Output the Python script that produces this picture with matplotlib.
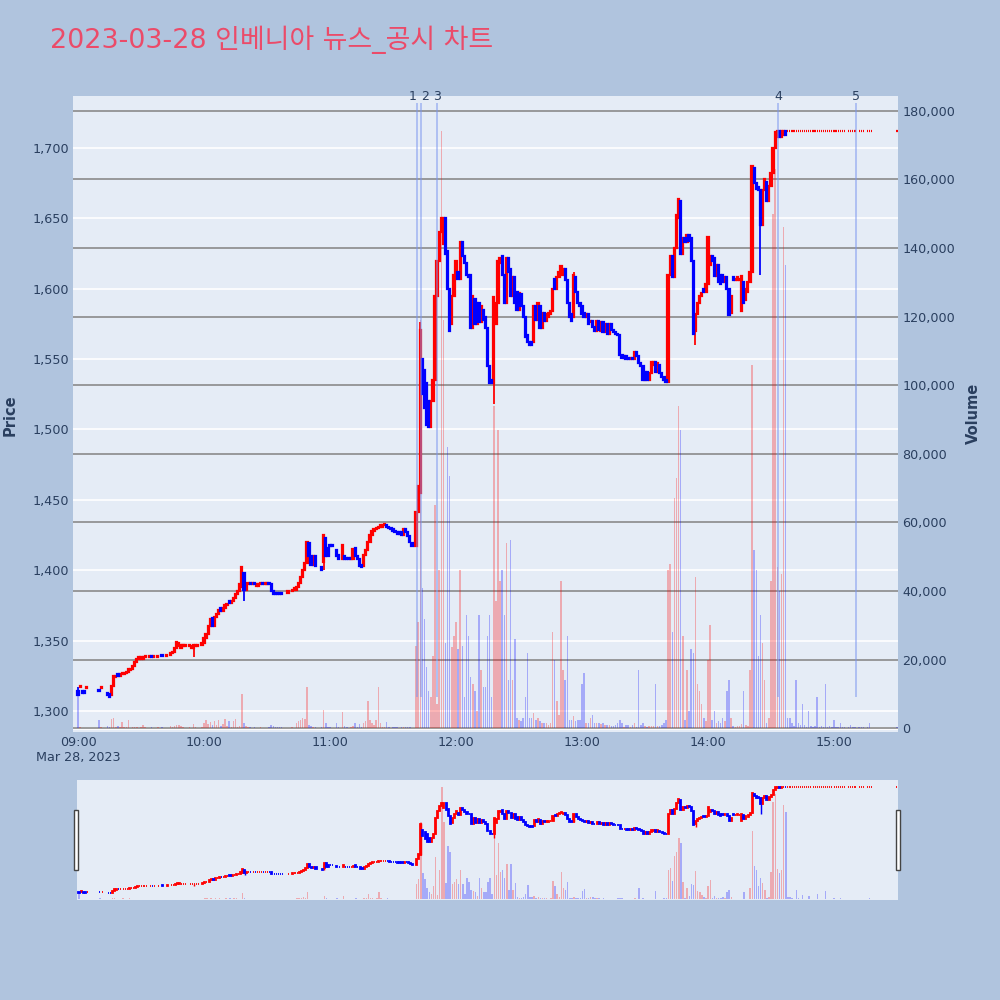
import matplotlib
matplotlib.use('Agg')
import matplotlib.pyplot as plt
from matplotlib.patches import Rectangle

plt.rcParams['font.family'] = ['DejaVu Sans', 'Noto Sans CJK KR']

N = None
# one entry per minute from 09:00 (index 0) to 15:30 (index 390); None = no trade
opens = [
    1314, 1317, 1314, 1314, 1316, N, N, N, N, N,
    1315, 1316, N, N, 1313, 1312, 1311, 1318, 1324, 1326,
    1325, 1326, 1326, 1327, 1328, 1329, 1330, 1332, 1335, 1337,
    1337, 1337, 1338, N, 1338, 1339, 1338, N, 1338, N,
    1340, N, 1339, N, 1340, 1341, 1342, 1345, 1346, 1345,
    1346, 1346, N, 1346, 1345, 1345, 1346, 1346, N, 1347,
    1348, 1352, 1355, 1360, 1366, 1360, 1367, 1369, 1373, 1371,
    1373, 1375, 1378, 1377, 1378, 1380, 1383, 1385, 1388, 1398,
    1386, 1390, 1391, 1390, 1391, 1389, 1389, 1390, 1391, 1390,
    1390, 1391, 1390, 1385, 1384, 1384, 1384, 1384, N, N,
    1384, N, 1385, 1386, 1386, 1388, 1391, 1395, 1400, 1405,
    1419, 1410, 1404, 1410, N, N, 1402, 1406, 1423, 1416,
    1418, 1418, N, 1414, 1411, N, 1408, 1410, 1409, 1409,
    1408, 1408, 1416, 1410, 1408, 1404, 1403, 1411, 1414, 1420,
    1425, 1428, 1429, 1430, 1431, 1431, 1432, 1432, 1431, 1430,
    1429, 1428, 1427, 1427, 1427, 1425, 1429, 1427, 1424, 1419,
    N, 1417, 1441, 1455, 1550, 1542, 1533, 1520, 1502, 1520,
    1535, 1595, 1620, 1640, 1632, 1650, 1627, 1600, 1575, 1595,
    1610, 1612, 1607, 1633, 1623, 1618, 1610, 1610, 1572, 1593,
    1575, 1590, 1576, 1585, 1580, 1572, 1545, 1535, 1533, 1575,
    1590, 1618, 1623, 1610, 1590, 1622, 1614, 1595, 1608, 1598,
    1585, 1596, 1588, 1580, 1567, 1562, 1562, 1562, 1588, 1578,
    1588, 1572, 1583, 1577, 1580, 1582, 1584, 1607, 1600, 1608,
    1612, 1610, 1614, 1606, 1590, 1582, 1580, 1608, 1598, 1590,
    1588, 1583, 1580, 1582, 1576, 1577, 1573, 1570, 1577, 1570,
    1576, 1569, 1575, 1568, 1575, 1571, 1569, 1568, 1567, 1553,
    1551, 1552, 1551, 1550, 1551, 1550, 1555, 1552, 1547, 1545,
    1535, 1541, 1535, 1540, 1546, 1548, 1541, 1546, 1540, 1537,
    1535, 1534, 1610, 1623, 1608, 1629, 1650, 1662, 1625, 1636,
    1633, 1638, 1636, 1620, 1570, 1582, 1590, 1595, 1600, 1598,
    1603, 1617, 1623, 1622, 1609, 1617, 1610, 1610, 1605, 1608,
    1600, 1583, 1608, 1606, 1606, 1606, 1584, 1605, 1592, 1598,
    1605, 1612, 1686, 1675, 1672, 1670, 1645, 1670, 1676, 1662,
    1673, 1682, 1700, 1708, 1712, 1708, 1709, 1712, 1712, 1712,
    1712, 1712, 1712, 1712, 1712, 1712, 1712, 1712, 1712, 1712,
    1712, 1712, 1712, 1712, 1712, 1712, 1712, 1712, 1712, 1712,
    1712, 1712, 1712, 1712, 1712, 1712, N, 1712, 1712, 1712,
    1712, N, 1712, 1712, 1712, N, 1712, 1712, 1712, N,
    N, N, N, N, N, N, N, N, N, N,
    1712,
]
closes = [
    1311, 1318, 1313, 1313, 1317, N, N, N, N, N,
    1314, 1317, N, N, 1311, 1310, 1318, 1325, 1325, 1325,
    1326, 1327, 1327, 1328, 1330, 1330, 1332, 1335, 1337, 1338,
    1338, 1338, 1339, N, 1339, 1338, 1339, N, 1339, N,
    1339, N, 1340, N, 1341, 1342, 1345, 1349, 1348, 1347,
    1347, 1347, N, 1347, 1346, 1347, 1347, 1347, N, 1348,
    1352, 1355, 1360, 1365, 1360, 1367, 1369, 1372, 1371, 1373,
    1375, 1376, 1377, 1378, 1380, 1383, 1385, 1390, 1402, 1386,
    1390, 1391, 1390, 1391, 1390, 1390, 1390, 1391, 1390, 1391,
    1391, 1390, 1385, 1383, 1383, 1383, 1383, 1383, N, N,
    1385, N, 1386, 1387, 1388, 1391, 1395, 1400, 1405, 1420,
    1410, 1404, 1410, 1403, N, N, 1400, 1425, 1410, 1410,
    1417, 1417, N, 1410, 1408, N, 1418, 1408, 1408, 1408,
    1409, 1415, 1410, 1408, 1403, 1402, 1411, 1414, 1420, 1425,
    1428, 1429, 1430, 1431, 1432, 1432, 1433, 1431, 1430, 1429,
    1428, 1427, 1426, 1426, 1425, 1429, 1427, 1424, 1420, 1417,
    N, 1441, 1460, 1571, 1525, 1515, 1503, 1502, 1520, 1535,
    1595, 1620, 1640, 1650, 1650, 1625, 1600, 1570, 1595, 1610,
    1620, 1607, 1633, 1623, 1618, 1610, 1608, 1572, 1595, 1575,
    1590, 1576, 1588, 1578, 1572, 1545, 1533, 1533, 1594, 1590,
    1620, 1622, 1610, 1590, 1622, 1612, 1595, 1608, 1590, 1585,
    1597, 1588, 1580, 1566, 1562, 1560, 1560, 1588, 1578, 1590,
    1572, 1583, 1577, 1582, 1583, 1584, 1600, 1600, 1608, 1612,
    1616, 1614, 1606, 1590, 1580, 1577, 1610, 1598, 1590, 1588,
    1582, 1580, 1582, 1575, 1577, 1573, 1570, 1577, 1571, 1576,
    1569, 1575, 1568, 1575, 1571, 1569, 1568, 1567, 1553, 1551,
    1552, 1550, 1550, 1551, 1550, 1555, 1552, 1547, 1545, 1535,
    1541, 1535, 1540, 1548, 1548, 1541, 1547, 1540, 1537, 1535,
    1534, 1610, 1623, 1608, 1629, 1652, 1664, 1625, 1636, 1633,
    1638, 1634, 1620, 1568, 1582, 1590, 1595, 1597, 1598, 1603,
    1637, 1623, 1620, 1609, 1617, 1605, 1603, 1605, 1608, 1600,
    1581, 1595, 1606, 1607, 1608, 1607, 1609, 1590, 1600, 1605,
    1612, 1687, 1675, 1671, 1670, 1645, 1670, 1678, 1662, 1673,
    1682, 1700, 1711, 1712, 1708, 1712, 1712, 1709, 1712, 1712,
    1712, 1712, 1712, 1712, 1712, 1712, 1712, 1712, 1712, 1712,
    1712, 1712, 1712, 1712, 1712, 1712, 1712, 1712, 1712, 1712,
    1712, 1712, 1712, 1712, 1712, 1712, N, 1712, 1712, 1712,
    1712, N, 1712, 1712, 1712, N, 1712, 1712, 1712, N,
    N, N, N, N, N, N, N, N, N, N,
    1712,
]
volumes = [
    11000, 300, 200, 200, 200, 0, 0, 0, 0, 0,
    2300, 300, 0, 0, 600, 500, 2700, 2900, 400, 800,
    300, 1800, 300, 400, 2300, 200, 500, 300, 400, 200,
    300, 1000, 300, 0, 200, 300, 200, 0, 400, 0,
    300, 0, 200, 0, 600, 300, 800, 900, 1000, 700,
    400, 200, 0, 300, 200, 1200, 300, 200, 0, 400,
    1500, 2500, 1200, 1800, 900, 2200, 1000, 2500, 800, 1200,
    2800, 600, 2200, 300, 2000, 2800, 500, 800, 10000, 1500,
    800, 300, 400, 200, 300, 200, 200, 300, 200, 200,
    200, 300, 900, 600, 300, 300, 500, 300, 0, 0,
    200, 0, 300, 200, 1500, 2000, 2500, 3000, 2800, 12000,
    1000, 600, 400, 300, 0, 0, 500, 5200, 1500, 400,
    300, 200, 0, 1500, 400, 0, 4700, 600, 300, 200,
    300, 800, 1500, 400, 1200, 500, 1500, 2000, 8000, 2500,
    1500, 1000, 2500, 12000, 1500, 300, 500, 1800, 300, 200,
    500, 300, 400, 200, 300, 300, 300, 500, 300, 200,
    0, 24000, 31000, 119000, 41000, 32000, 18000, 11000, 9000, 21000,
    65000, 7000, 46000, 174000, 119000, 25000, 82000, 73500, 23600, 27000,
    31000, 23000, 46000, 24000, 9000, 33000, 27000, 15000, 13000, 11000,
    5000, 33000, 17000, 12000, 12000, 27000, 33000, 9000, 94000, 37000,
    87000, 43000, 46000, 33000, 54000, 14000, 55000, 14000, 26000, 3000,
    2500, 2000, 3000, 9000, 22000, 3000, 3000, 4500, 2500, 3000,
    2000, 1500, 1500, 1500, 1000, 1500, 28000, 20000, 8000, 4000,
    43000, 17000, 14000, 27000, 2500, 2500, 3500, 2000, 2500, 2500,
    13000, 16000, 1500, 1500, 3000, 4000, 1500, 1500, 1500, 1200,
    1500, 1000, 1000, 1000, 600, 800, 1000, 1500, 2500, 1500,
    500, 1000, 1000, 500, 1000, 1500, 500, 17000, 1000, 1500,
    800, 500, 600, 800, 600, 13000, 600, 800, 1000, 1500,
    2500, 46000, 48000, 28000, 67000, 73000, 94000, 87000, 27000, 2500,
    17000, 5000, 23000, 22000, 44000, 13000, 11000, 7000, 3000, 2000,
    20000, 30000, 2500, 5000, 1500, 2000, 1500, 3000, 2000, 11000,
    14000, 3000, 800, 500, 800, 600, 1200, 11000, 1000, 600,
    17000, 106000, 52000, 46000, 21000, 33000, 25000, 14000, 1500, 3000,
    43000, 150000, 163000, 47000, 40000, 45000, 146000, 135000, 3000, 3000,
    1500, 800, 14000, 1500, 1000, 7000, 1000, 500, 5000, 800,
    500, 600, 9000, 500, 800, 400, 13000, 500, 600, 400,
    2500, 300, 400, 1500, 300, 500, 0, 300, 1000, 300,
    400, 0, 300, 400, 300, 0, 300, 1500, 200, 0,
    0, 0, 0, 0, 0, 0, 0, 0, 0, 0,
    500,
]
# wicks that reach past the candle body
wick_high = {0: 1317, 47: 1350, 78: 1403, 163: 1576, 236: 1612}
wick_low = {55: 1338, 79: 1378, 117: 1400, 198: 1518, 294: 1560, 325: 1610}

news_minutes = [161.4, 163.3, 171.0, 333.3, 370.5]
news_labels = ['1', '2', '3', '4', '5']

hour_ticks = [0, 60, 120, 180, 240, 300, 360]
hour_labels = ['09:00', '10:00', '11:00', '12:00', '13:00', '14:00', '15:00']

RED = '#FF0000'
BLUE = '#0000FF'
BG = '#E5ECF6'
TXT = '#2a3f5f'

PRICE_LIM = (1285.4, 1736.9)
VOL_LIM = (-930, 184280)


def draw(ax, axv, body_w, lw, vol_w):
    xs_up, o_up, h_up, xs_dn, o_dn, h_dn = [], [], [], [], [], []
    vx, vv, vc = [], [], []
    for i, (o, c) in enumerate(zip(opens, closes)):
        if o is None:
            continue
        up = c >= o
        col = RED if up else BLUE
        hi = wick_high.get(i, max(o, c))
        lo = wick_low.get(i, min(o, c))
        if hi > max(o, c) or lo < min(o, c):
            ax.vlines(i, lo, hi, color=col, lw=lw * 0.8, zorder=3)
        if up:
            xs_up.append(i); o_up.append(o); h_up.append(c - o)
        else:
            xs_dn.append(i); o_dn.append(c); h_dn.append(o - c)
        vx.append(i); vv.append(volumes[i])
        vc.append(RED if c > o else BLUE)
    ax.bar(xs_up, h_up, bottom=o_up, width=body_w, color=RED,
           edgecolor=RED, linewidth=lw, zorder=4)
    ax.bar(xs_dn, h_dn, bottom=o_dn, width=body_w, color=BLUE,
           edgecolor=BLUE, linewidth=lw, zorder=4)
    axv.bar(vx, vv, width=vol_w, color=vc, alpha=0.28, linewidth=0, zorder=2)


fig = plt.figure(figsize=(10, 10), dpi=100, facecolor='#B0C4DE')

# main chart
axv = fig.add_axes([0.073, 0.2685, 0.825, 0.6355])
ax = axv.twinx()
axv.set_facecolor(BG)
ax.set_zorder(axv.get_zorder() + 1)
ax.patch.set_visible(False)

draw(ax, axv, 0.6, 1.6, 0.7)

axv.set_ylim(*VOL_LIM)
axv.set_yticks(range(0, 180001, 20000))
axv.grid(axis='y', color='#8a8a8a', lw=1.2, zorder=0)
axv.axhline(0, color='white', lw=2, zorder=1)
axv.yaxis.tick_right()
axv.set_yticklabels([f'{v:,}' for v in range(0, 180001, 20000)])

ax.yaxis.tick_left()
ax.set_ylim(*PRICE_LIM)
ax.set_yticks(range(1300, 1701, 50))
ax.set_yticklabels([f'{p:,}' for p in range(1300, 1701, 50)])
for p in range(1300, 1701, 50):
    axv.axhline((p - PRICE_LIM[0]) / (PRICE_LIM[1] - PRICE_LIM[0]) * (VOL_LIM[1] - VOL_LIM[0]) + VOL_LIM[0],
                color='white', lw=1.2, zorder=1)

ax.set_xlim(-2.4, 390.5)
axv.set_xticks(hour_ticks)
axv.set_xticklabels(hour_labels)

for a in (ax, axv):
    for s in a.spines.values():
        s.set_visible(False)
    a.tick_params(length=0, labelsize=9.2, labelcolor=TXT, pad=3)

ax.vlines(news_minutes, 1310, 1732, color='#7a96f0', alpha=0.6, lw=1.2, zorder=5)
for k, (m, lab) in enumerate(zip(news_minutes, news_labels)):
    # labels of news items that sit almost on top of each other are set side by side
    ha = 'center'
    if k + 1 < len(news_minutes) and news_minutes[k + 1] - m < 4:
        ha = 'right'
    elif k > 0 and m - news_minutes[k - 1] < 4:
        ha = 'left'
    ax.text(m, 1.0, lab, transform=ax.get_xaxis_transform(), ha=ha, va='center',
            fontsize=9, color=TXT)

fig.text(0.078, 1 - 0.757, 'Mar 28, 2023', ha='center', va='center', fontsize=9.2, color=TXT)
fig.text(0.010, 1 - 0.415, 'Price', rotation=90, ha='center', va='center',
         fontsize=10.5, fontweight='bold', color=TXT)
fig.text(0.973, 1 - 0.413, 'Volume', rotation=90, ha='center', va='center',
         fontsize=10.5, fontweight='bold', color=TXT)

fig.text(0.050, 1 - 0.040, '2023-03-28 인베니아 뉴스_공시 차트', ha='left', va='center',
         fontsize=19.4, color='#EB4B69')

# range slider
sv = fig.add_axes([0.077, 0.100, 0.821, 0.120])
sp = sv.twinx()
sv.set_facecolor(BG)
sp.set_zorder(sv.get_zorder() + 1)
sp.patch.set_visible(False)
draw(sp, sv, 0.5, 1.3, 0.7)
sv.set_ylim(*VOL_LIM)
sp.set_ylim(*PRICE_LIM)
sp.set_xlim(-0.95, 390.5)
for a in (sv, sp):
    a.set_xticks([]); a.set_yticks([])
    for s in a.spines.values():
        s.set_visible(False)

for hx in (74, 896):
    fig.patches.append(Rectangle((hx / 1000, 1 - 0.870), 0.004, 0.060, transform=fig.transFigure,
                                 facecolor='white', edgecolor='#444444', lw=1))

fig.savefig('out.png', dpi=100, facecolor=fig.get_facecolor())
